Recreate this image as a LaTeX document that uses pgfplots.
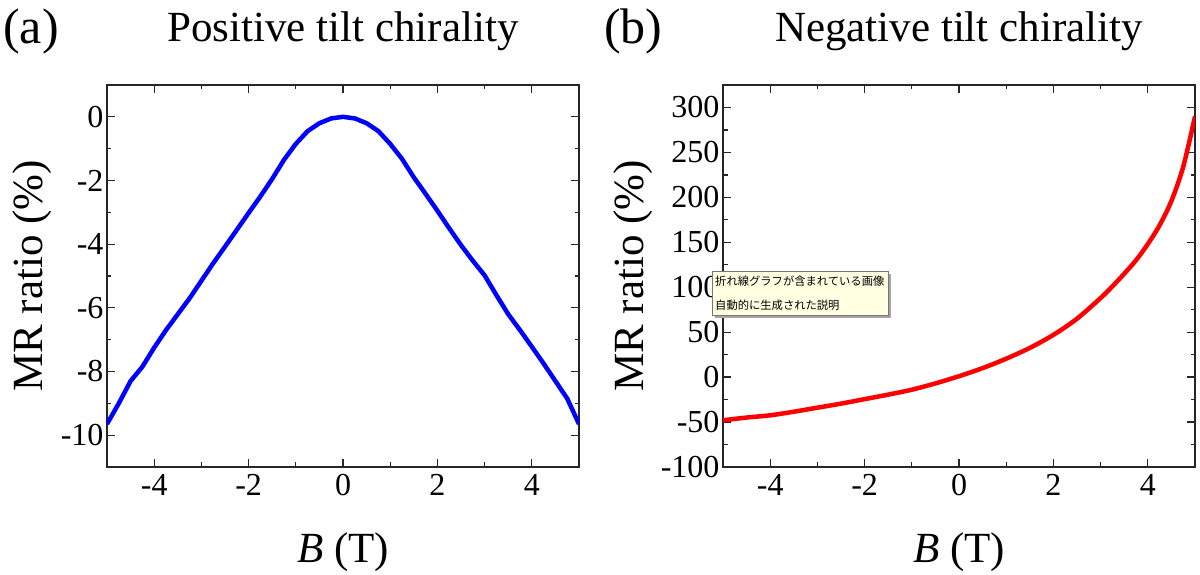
\documentclass[border=0pt]{standalone}
\usepackage{pgfplots}
\pgfplotsset{compat=1.18}
\usepackage{fontspec}
\setmainfont{Liberation Serif}
\newfontfamily\cjk{Noto Sans CJK JP}
\definecolor{tipbg}{HTML}{FFFFE1}
\definecolor{tipborder}{HTML}{767676}

\pgfplotstableread{
B MR
-5 -9.65
-4.75 -9.0
-4.5 -8.3
-4.25 -7.85
-4 -7.25
-3.75 -6.7
-3.5 -6.2
-3.25 -5.7
-3 -5.15
-2.75 -4.6
-2.5 -4.08
-2.25 -3.55
-2 -3.02
-1.75 -2.5
-1.5 -1.95
-1.25 -1.35
-1 -0.85
-0.75 -0.45
-0.5 -0.2
-0.25 -0.05
0 0
0.25 -0.05
0.5 -0.2
0.75 -0.45
1 -0.85
1.25 -1.32
1.5 -1.9
1.75 -2.42
2 -2.95
2.25 -3.5
2.5 -4.03
2.75 -4.52
3 -4.98
3.25 -5.6
3.5 -6.2
3.75 -6.7
4 -7.22
4.25 -7.75
4.5 -8.3
4.75 -8.85
5 -9.65
}\postab

\pgfplotstableread{
B MR
-5 -48
-4.5 -45
-4 -42.5
-3.5 -38.5
-3 -34
-2.5 -29.5
-2 -24.5
-1.5 -19.5
-1 -14
-0.5 -7
0 1
0.5 10
1 20.5
1.5 32.5
2 47
2.5 65
3 88
3.25 101
3.5 115
3.75 130
4 148
4.25 169
4.5 196
4.75 234
5 290
}\negtab

\begin{document}
\begin{tikzpicture}[x=1pt,y=1pt]
\useasboundingbox (-107,-108) rectangle (1093,467);
\pgfplotsset{
  myax/.style={
    scale only axis, width=472pt, height=382pt,
    xmin=-5, xmax=5,
    xtick={-4,-2,0,2,4}, xticklabels={-4,-2,0,2,4},
    minor x tick num=1, minor y tick num=1,
    tick align=inside, xtick pos=both, ytick pos=both,
    major tick length=8pt, minor tick length=4.5pt,
    every tick/.style={black!85, line width=1.3pt},
    axis line style={line width=1.8pt, black!85},
    tick label style={font=\fontsize{32}{32}\selectfont},
    label style={font=\fontsize{43}{43}\selectfont},
    xlabel={\textit{B} (T)},
    ylabel={MR ratio (\%)},
    xticklabel style={yshift=-4pt},
    xlabel style={at={(axis description cs:0.5,-0.2487)}, anchor=base},
    title style={at={(axis description cs:0.5,1.098)}, anchor=base, font=\fontsize{43}{43}\selectfont},
  }
}
\begin{axis}[myax, name=L,
  ymin=-11, ymax=1,
  ytick={-10,-8,-6,-4,-2,0}, yticklabels={-10,-8,-6,-4,-2,0},
  ylabel style={at={(axis description cs:-0.1356,0.5)}, anchor=base},
  title={Positive tilt chirality},
]
\addplot[blue, line width=4.5pt, line join=round] table[x=B,y=MR]{\postab};
\end{axis}
\begin{axis}[myax, name=R, xshift=616pt,
  ymin=-100, ymax=325,
  ytick={-100,-50,0,50,100,150,200,250,300},
  yticklabels={-100,-50,0,50,100,150,200,250,300},
  ylabel style={at={(axis description cs:-0.169,0.5)}, anchor=base},
  title={Negative tilt chirality},
]
\addplot[red, line width=4.5pt, smooth, line join=round] table[x=B,y=MR]{\negtab};
\end{axis}
\node[anchor=base west, font=\fontsize{50}{50}\selectfont, inner sep=0pt] at (-104,423) {(a)};
\node[anchor=base west, font=\fontsize{50}{50}\selectfont, inner sep=0pt] at (497,423) {(b)};
% screenshot tooltip overlay
\fill[black!35] (608,149) rectangle (784,193);
\filldraw[fill=tipbg, draw=tipborder, line width=0.8pt] (605,152) rectangle (781,196);
\node[anchor=base west, inner sep=0pt, font=\cjk\fontsize{11.3}{12}\selectfont] at (608,181) {折れ線グラフが含まれている画像};
\node[anchor=base west, inner sep=0pt, font=\cjk\fontsize{11.3}{12}\selectfont] at (608,157) {自動的に生成された説明};
\end{tikzpicture}
\end{document}
